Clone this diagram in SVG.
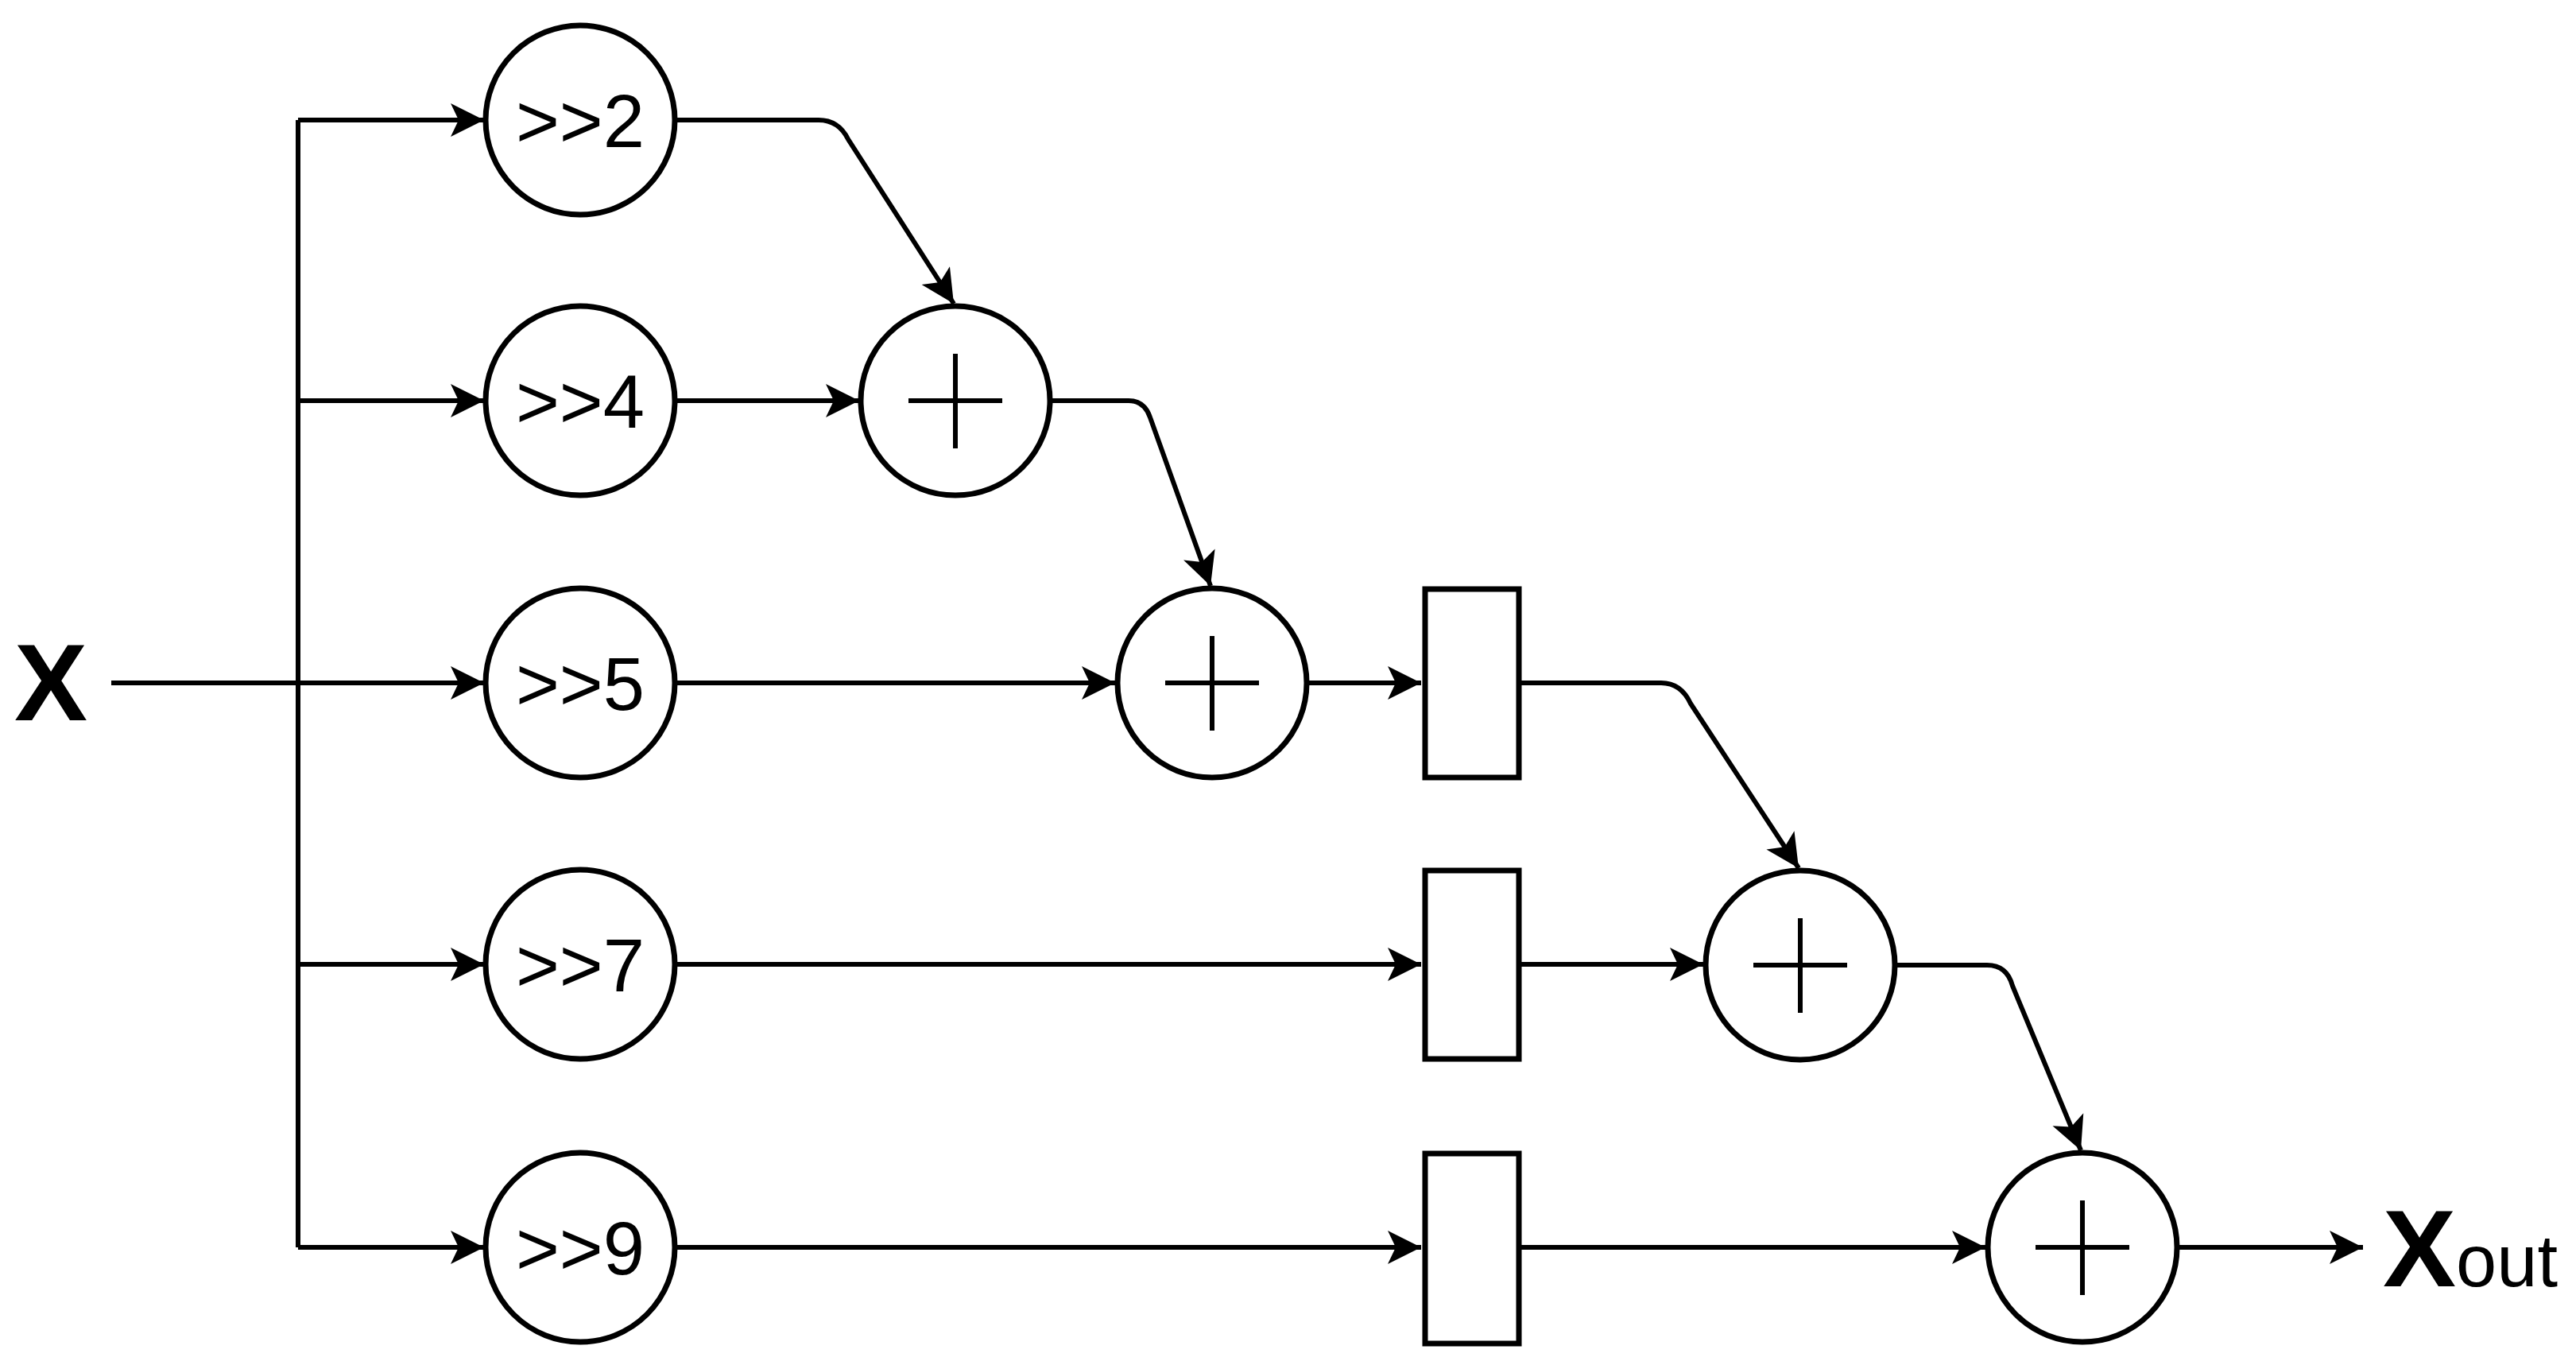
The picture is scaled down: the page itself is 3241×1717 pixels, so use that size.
<svg xmlns="http://www.w3.org/2000/svg" width="3241" height="1717" viewBox="0 0 3241 1717">
<style>
.n{fill:#fff;stroke:#000;stroke-width:7}
.c{fill:none;stroke:#000;stroke-width:6}
.t{font-family:"Liberation Sans",Arial,sans-serif;font-size:94px;text-anchor:middle}
.p{stroke:#000;stroke-width:6}
</style>
<defs>
<marker id="a" markerUnits="userSpaceOnUse" markerWidth="50" markerHeight="50" viewBox="-45 -25 50 50" refX="0" refY="0" orient="auto">
<path d="M0,0 L-42,-21 L-32,0 L-42,21 Z" fill="#000"/>
</marker>
</defs>
<rect width="3241" height="1717" fill="#fff"/>
<g id="connectors">
<path class="c" d="M140,859 H375"/>
<path class="c" d="M375,151 V1569"/>
<path class="c" marker-end="url(#a)" d="M375,151 H609"/>
<path class="c" marker-end="url(#a)" d="M375,504 H609"/>
<path class="c" marker-end="url(#a)" d="M375,859 H609"/>
<path class="c" marker-end="url(#a)" d="M375,1213 H609"/>
<path class="c" marker-end="url(#a)" d="M375,1569 H609"/>
<path class="c" marker-end="url(#a)" d="M851,151 H1030 Q1055,151 1067,175 L1200,382"/>
<path class="c" marker-end="url(#a)" d="M851,504 H1081"/>
<path class="c" marker-end="url(#a)" d="M1322,504 H1420 Q1440,504 1447,525 L1523,737"/>
<path class="c" marker-end="url(#a)" d="M851,859 H1403"/>
<path class="c" marker-end="url(#a)" d="M1646,859 H1788"/>
<path class="c" marker-end="url(#a)" d="M851,1213 H1788"/>
<path class="c" marker-end="url(#a)" d="M851,1569 H1788"/>
<path class="c" marker-end="url(#a)" d="M1913,859 H2090 Q2115,859 2127,885 L2263,1092"/>
<path class="c" marker-end="url(#a)" d="M1913,1213 H2143"/>
<path class="c" marker-end="url(#a)" d="M2386,1214 H2500 Q2525,1214 2532,1240 L2618,1447"/>
<path class="c" marker-end="url(#a)" d="M1913,1569 H2498"/>
<path class="c" marker-end="url(#a)" d="M2741,1569 H2973"/>
</g>
<g id="s2"><circle class="n" cx="730" cy="151" r="119"/><text class="t" x="730" y="185">&gt;&gt;2</text></g>
<g id="s4"><circle class="n" cx="730" cy="504" r="119"/><text class="t" x="730" y="538">&gt;&gt;4</text></g>
<g id="s5"><circle class="n" cx="730" cy="859" r="119"/><text class="t" x="730" y="893">&gt;&gt;5</text></g>
<g id="s7"><circle class="n" cx="730" cy="1213" r="119"/><text class="t" x="730" y="1247">&gt;&gt;7</text></g>
<g id="s9"><circle class="n" cx="730" cy="1569" r="119"/><text class="t" x="730" y="1603">&gt;&gt;9</text></g>
<g id="add1"><circle class="n" cx="1202" cy="504" r="119"/><path class="p" d="M1143,504 H1261 M1202,445 V564"/></g>
<g id="add2"><circle class="n" cx="1525" cy="859" r="119"/><path class="p" d="M1466,859 H1584 M1525,800 V919"/></g>
<g id="add3"><circle class="n" cx="2265" cy="1214" r="119"/><path class="p" d="M2206,1214 H2324 M2265,1155 V1274"/></g>
<g id="add4"><circle class="n" cx="2620" cy="1569" r="119"/><path class="p" d="M2561,1569 H2679 M2620,1510 V1629"/></g>
<g id="d1"><rect class="n" x="1793" y="741" width="118" height="237"/></g>
<g id="d2"><rect class="n" x="1793" y="1095" width="118" height="237"/></g>
<g id="d3"><rect class="n" x="1793" y="1451" width="118" height="239"/></g>
<g id="x"><text x="18" y="906" font-family="Liberation Sans,Arial,sans-serif" font-size="138" font-weight="bold">X</text></g>
<g id="xout"><text x="2998" y="1618" font-family="Liberation Sans,Arial,sans-serif" font-size="138" font-weight="bold">X<tspan font-size="92" font-weight="normal">out</tspan></text></g>
</svg>
